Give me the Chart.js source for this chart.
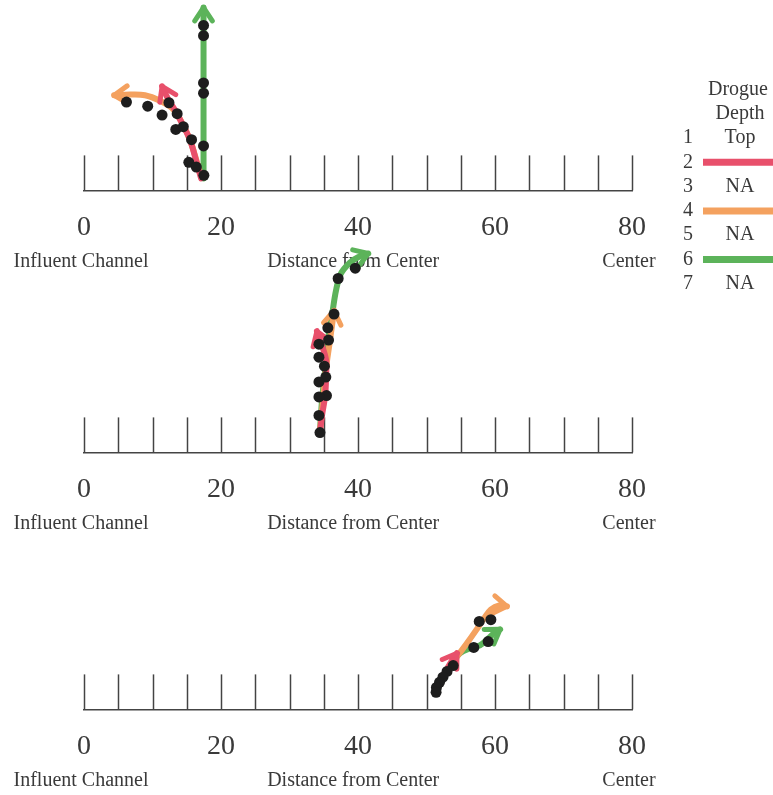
<!DOCTYPE html>
<html>
<head>
<meta charset="utf-8">
<script src="https://cdn.jsdelivr.net/npm/chart.js@4"></script>
<style>
  html, body { margin: 0; padding: 0; background: #fff; }
  #wrap { position: relative; width: 773px; height: 795px; overflow: hidden; }
  canvas { position: absolute; left: 0; }
</style>
</head>
<body>
<div id="wrap">
  <canvas id="p1" width="773" height="330"></canvas>
  <canvas id="p2" width="773" height="330"></canvas>
  <canvas id="p3" width="773" height="330"></canvas>
</div>
<script>
// distance along the channel (x) and height above the ruler (y), same units
let tickLabels = [0, 20, 40, 60, 80];
let axisTexts = ['Influent Channel', 'Distance from Center', 'Center'];
let legendTitle = ['Drogue', 'Depth'];
let legendRows = ['Top', 'red', 'NA', 'orange', 'NA', 'green', 'NA'];

// panel 1 (top)
let p1Dots = [[6.2,12.9],[9.3,12.3],[12.4,12.8],[11.4,11.0],[13.6,11.2],[13.4,8.9],[14.5,9.3],
  [15.7,7.4],[15.3,4.1],[16.4,3.4],[17.5,2.2],[17.45,6.5],[17.45,14.2],[17.45,15.7],[17.45,22.6],[17.45,24.1]];
let p1Red = [[17.1,1.75],[16.35,4.4],[15.5,7.3],[14.45,9.5],[13.3,11.7],[12.25,13.4],[11.4,15.2]];
let p1Orange = [[16.9,2.6],[16.2,5.1],[15.5,7.3],[14.3,9.9],[12.85,12.0],[11.1,13.1],[8.9,13.9],[6.7,14.0],[4.4,13.9]];
let p1Green = [[17.45,1.75],[17.45,14],[17.45,26.7]];

// panel 2 (middle)
let p2Dots = [[39.6,26.9],[37.1,25.4],[36.5,20.2],[35.6,18.2],[35.7,16.4],[34.3,15.8],[34.3,13.9],
  [35.1,12.6],[35.3,11.0],[34.3,10.3],[35.4,8.3],[34.3,8.1],[34.3,5.4],[34.45,2.9]];
let p2Red = [[34.45,2.9],[34.75,5.4],[35.2,8.3],[35.35,11.2],[35.35,13.4],[34.75,15.6],[34.0,17.7]];
let p2Orange = [[34.45,3.2],[34.9,7.6],[35.3,12.0],[35.8,15.6],[36.2,18.5],[36.5,20.7]];
let p2Green = [[34.45,3.2],[34.75,7.6],[35.2,12.0],[35.6,16.4],[36.2,20.0],[36.8,23.7],[37.5,26.1],[38.8,27.7],[40.0,28.5],[41.5,29.05]];

// panel 3 (bottom)
let p3Dots = [[59.4,13.1],[57.7,12.85],[59.0,9.9],[56.9,9.05],[53.9,6.4],[53.0,5.55],[52.4,4.7],[51.9,3.95],[51.45,3.2],[51.4,2.5]];
let p3Red = [[51.4,2.5],[51.95,3.95],[52.7,5.4],[53.45,6.7],[54.45,8.2]];
let p3Orange = [[51.5,2.8],[52.4,4.5],[53.45,6.3],[54.6,7.9],[55.9,9.65],[57.2,11.5],[58.4,13.3],[59.4,14.6],[60.6,15.2],[61.75,15.05]];
let p3Green = [[51.5,2.8],[52.7,5.0],[53.7,6.7],[54.9,8.2],[56.35,8.9],[57.8,9.35],[59.0,10.35],[59.85,11.1],[60.75,11.7]];

const SERIF = "'Liberation Serif', 'DejaVu Serif', serif";
const colors = { red: '#e8506b', orange: '#f4a15f', green: '#5cb35a' };
const ink = '#3a3a3a';

// ruler ticks pointing up from the baseline, plus the texts under the numbers
const ruler = {
  id: 'ruler',
  beforeDatasetsDraw(chart) {
    const ctx = chart.ctx, x = chart.scales.x, base = chart.chartArea.bottom;
    ctx.save();
    ctx.strokeStyle = '#444';
    ctx.lineWidth = 1.5;
    x.ticks.forEach(t => {
      const px = Math.round(x.getPixelForValue(t.value)) + 0.5;
      ctx.beginPath();
      ctx.moveTo(px, base);
      ctx.lineTo(px, base - 35);
      ctx.stroke();
    });
    ctx.fillStyle = ink;
    ctx.font = '20px ' + SERIF;
    ctx.textAlign = 'center';
    ctx.textBaseline = 'middle';
    ctx.fillText(axisTexts[0], x.getPixelForValue(0) - 3, base + 71);
    ctx.fillText(axisTexts[1], x.getPixelForValue(39.3), base + 71);
    ctx.fillText(axisTexts[2], x.getPixelForValue(80) - 3, base + 71);
    ctx.restore();
  }
};

// open arrow head at the end of every track
const arrowHeads = {
  id: 'arrowHeads',
  afterDatasetDraw(chart, args) {
    const ds = chart.data.datasets[args.index];
    if (!ds.showLine) return;
    const pts = args.meta.data;
    const a = pts[pts.length - 2], b = pts[pts.length - 1];
    const ang = Math.atan2(b.y - a.y, b.x - a.x);
    const len = 16, spread = 0.58;
    const ctx = chart.ctx;
    ctx.save();
    ctx.strokeStyle = ds.borderColor;
    ctx.lineWidth = 5;
    ctx.lineCap = 'round';
    ctx.lineJoin = 'round';
    ctx.beginPath();
    ctx.moveTo(b.x - len * Math.cos(ang - spread), b.y - len * Math.sin(ang - spread));
    ctx.lineTo(b.x, b.y);
    ctx.lineTo(b.x - len * Math.cos(ang + spread), b.y - len * Math.sin(ang + spread));
    ctx.stroke();
    ctx.restore();
  }
};

// legend box at the right of the top panel (page coords shifted by canvas top)
function legendPlugin(shift) {
  return {
    id: 'drogueLegend',
    afterDraw(chart) {
      const ctx = chart.ctx;
      ctx.save();
      ctx.fillStyle = ink;
      ctx.font = '20px ' + SERIF;
      ctx.textAlign = 'center';
      ctx.textBaseline = 'middle';
      ctx.fillText(legendTitle[0], 738, 90 + shift);
      ctx.fillText(legendTitle[1], 740, 114 + shift);
      legendRows.forEach((r, i) => {
        const y = 138 + i * 24.3 + shift;
        ctx.fillStyle = ink;
        ctx.fillText(String(i + 1), 688, y);
        if (colors[r]) {
          ctx.strokeStyle = colors[r];
          ctx.lineWidth = 7;
          ctx.beginPath();
          ctx.moveTo(703, y);
          ctx.lineTo(773, y);
          ctx.stroke();
        } else {
          ctx.fillText(r, 740, y);
        }
      });
      ctx.restore();
    }
  };
}

const BASE = 215;      // baseline inside each canvas
const PXU = 6.85;      // pixels per unit on both axes

function track(pts, color) {
  return {
    data: pts.map(p => ({ x: p[0], y: p[1] })),
    showLine: true,
    borderColor: color,
    borderWidth: 6,
    borderCapStyle: 'round',
    borderJoinStyle: 'round',
    pointRadius: 0,
    tension: 0.35,
    clip: false
  };
}

function makePanel(id, baseline, dots, red, orange, green, extra) {
  const cv = document.getElementById(id);
  const top = baseline - BASE;
  cv.style.top = top + 'px';
  const plugins = [ruler, arrowHeads];
  if (extra) plugins.push(extra(-top));
  new Chart(cv, {
    type: 'scatter',
    data: {
      datasets: [
        {
          data: dots.map(p => ({ x: p[0], y: p[1] })),
          pointRadius: 5.5,
          pointBackgroundColor: '#1d1d1d',
          pointBorderWidth: 0,
          showLine: false,
          clip: false
        },
        track(red, colors.red),
        track(orange, colors.orange),
        track(green, colors.green)
      ]
    },
    options: {
      responsive: false,
      animation: false,
      devicePixelRatio: 1,
      layout: { padding: { left: 84, right: 141, top: 5, bottom: 49 } },
      plugins: { legend: { display: false }, tooltip: { enabled: false } },
      scales: {
        x: {
          type: 'linear',
          min: 0,
          max: 80,
          grid: { display: false },
          border: { display: true, color: '#444', width: 1.5 },
          ticks: {
            stepSize: 5,
            autoSkip: false,
            maxRotation: 0,
            padding: 12,
            color: ink,
            font: { family: SERIF, size: 28 },
            callback: v => tickLabels.includes(v) ? String(v) : ''
          }
        },
        y: { display: false, min: 0, max: (BASE - 5) / PXU }
      }
    },
    plugins: plugins
  });
}

makePanel('p1', 190, p1Dots, p1Red, p1Orange, p1Green, legendPlugin);
makePanel('p2', 452, p2Dots, p2Red, p2Orange, p2Green);
makePanel('p3', 709, p3Dots, p3Red, p3Orange, p3Green);
</script>
</body>
</html>
